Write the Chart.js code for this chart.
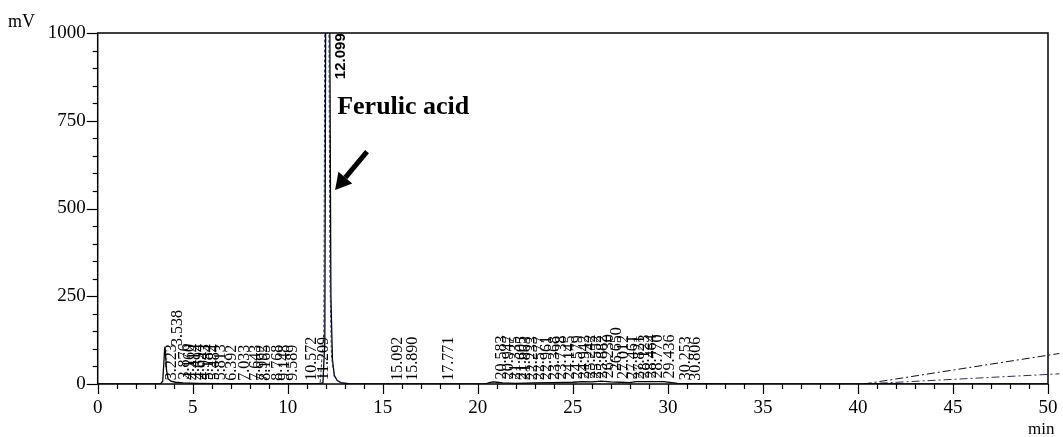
<!DOCTYPE html>
<html>
<head>
<meta charset="utf-8">
<script src="https://cdn.jsdelivr.net/npm/chart.js@4.4.1/dist/chart.umd.min.js"></script>
<style>
  html, body { margin: 0; padding: 0; background: #ffffff; }
  #wrap { position: relative; width: 1063px; height: 437px; }
</style>
</head>
<body>
<div id="wrap"><canvas id="c" width="1063" height="437"></canvas></div>
<script>
// ---- data ----
const traceTime = [0, 3.3, 3.42, 3.48, 3.52, 3.56, 3.62, 3.7, 3.85, 4.1, 4.5, 5.2, 6.5, 9, 11.6, 11.85, 11.95, 12.0, 12.05, 12.15, 12.22, 12.27, 12.35, 12.45, 12.6, 12.8, 13.2, 15, 20.4, 20.6, 20.8, 21.0, 21.3, 22, 23, 24, 25, 25.5, 26, 26.5, 27, 27.5, 28, 28.3, 29.8, 30.5, 31.5, 33, 50];
const traceMV   = [0, 0, 8, 60, 100, 95, 40, 15, 8, 5, 3, 2, 1, 1, 1, 3, 120, 1150, 1900, 1900, 900, 250, 70, 25, 10, 4, 1, 0, 0, 4, 6, 5, 3, 2, 3, 4, 5, 7, 6, 8, 6, 5, 4, 7, 7, 2, 1, 0, 0];

const trace2Time = [11.0, 11.7, 11.9, 11.95, 12.0, 12.1, 12.17, 12.22, 12.3, 12.45, 12.7, 13.2, 14.0];
const trace2MV   = [0, 0, 150, 1100, 1900, 1900, 1000, 300, 80, 20, 5, 0, 0];

const gradTime  = [40.3, 50.6];
const gradAmV   = [0, 87];
const gradBmV   = [0, 29];

const peakTimes = [3.223, 3.538, 3.876, 4.160, 4.414, 4.694, 4.943, 5.184, 5.484, 5.813, 6.392, 7.033, 7.643, 7.992, 8.165, 8.768, 9.148, 9.589,
  10.572, 11.209, 12.099, 15.092, 15.890, 17.771,
  20.583, 20.947, 21.335, 21.605, 21.863, 22.233, 22.577, 22.961, 23.368, 23.738, 24.145, 24.579, 24.942, 25.242, 25.552, 25.882, 26.230, 26.650, 27.012, 27.461, 27.821, 28.123, 28.464, 28.770, 29.436, 30.253, 30.806];
const peakHeights = [2, 100, 4, 3, 3, 3, 3, 2, 2, 2, 1, 1, 1, 1, 1, 1, 1, 1,
  1, 2, 860, 1, 1, 1,
  4, 5, 3, 3, 2, 2, 2, 3, 3, 4, 4, 5, 5, 7, 6, 6, 8, 28, 6, 5, 4, 7, 7, 7, 7, 2, 1];

const xTickValues = [0, 5, 10, 15, 20, 25, 30, 35, 40, 45, 50];
const yTickValues = [0, 250, 500, 750, 1000];

function pts(xs, ys) { return xs.map((x, i) => ({ x: x, y: ys[i] })); }

const SERIF = '"Liberation Serif", "Times New Roman", serif';

const overlay = {
  id: 'overlay',
  afterDraw(chart) {
    const ctx = chart.ctx;
    const a = chart.chartArea;
    const xs = chart.scales.x, ys = chart.scales.y;
    ctx.save();
    // frame
    ctx.strokeStyle = '#000';
    ctx.lineWidth = 1.5;
    ctx.strokeRect(a.left, a.top, a.right - a.left, a.bottom - a.top);
    // x ticks
    ctx.lineWidth = 1.2;
    for (let m = 0; m <= 50; m++) {
      const px = Math.round(xs.getPixelForValue(m)) + 0.5;
      const len = (m % 5 === 0) ? 10 : 5;
      ctx.beginPath(); ctx.moveTo(px, a.bottom); ctx.lineTo(px, a.bottom + len); ctx.stroke();
    }
    // y ticks
    for (let v = 0; v <= 1000; v += 50) {
      const py = Math.round(ys.getPixelForValue(v)) + 0.5;
      const len = (v % 250 === 0) ? 11 : 5;
      ctx.beginPath(); ctx.moveTo(a.left, py); ctx.lineTo(a.left - len, py); ctx.stroke();
    }
    // peak labels
    ctx.fillStyle = '#000';
    ctx.textAlign = 'left';
    ctx.textBaseline = 'middle';
    for (let i = 0; i < peakTimes.length; i++) {
      const t = peakTimes[i];
      const px = xs.getPixelForValue(t) + 13;
      const py = ys.getPixelForValue(peakHeights[i]) - 3;
      ctx.save();
      ctx.translate(px, py);
      ctx.rotate(-Math.PI / 2);
      if (t === 12.099) {
        ctx.font = 'bold 15px "Liberation Sans", Arial, sans-serif';
      } else {
        ctx.font = '16px ' + SERIF;
      }
      ctx.fillText(t.toFixed(3), 0, 0);
      ctx.restore();
    }
    // annotation text
    ctx.font = 'bold 26px ' + SERIF;
    ctx.textBaseline = 'alphabetic';
    ctx.fillText('Ferulic acid', xs.getPixelForValue(12.6), ys.getPixelForValue(770));
    // arrow
    const tx = xs.getPixelForValue(12.49), ty = ys.getPixelForValue(553);
    const sx = xs.getPixelForValue(14.17), sy = ys.getPixelForValue(662);
    const ang = Math.atan2(ty - sy, tx - sx);
    const headLen = 16, headW = 9;
    const bx = tx - headLen * Math.cos(ang), by = ty - headLen * Math.sin(ang);
    ctx.lineWidth = 5;
    ctx.lineCap = 'butt';
    ctx.beginPath(); ctx.moveTo(sx, sy); ctx.lineTo(bx, by); ctx.stroke();
    ctx.beginPath();
    ctx.moveTo(tx, ty);
    ctx.lineTo(bx + headW * Math.sin(ang), by - headW * Math.cos(ang));
    ctx.lineTo(bx - headW * Math.sin(ang), by + headW * Math.cos(ang));
    ctx.closePath(); ctx.fill();
    // axis unit labels
    ctx.font = '18px ' + SERIF;
    ctx.textAlign = 'left';
    ctx.fillText('mV', 8, 27);
    ctx.font = '17px ' + SERIF;
    ctx.fillText('min', 1028, 434);
    ctx.restore();
  }
};

new Chart(document.getElementById('c'), {
  type: 'line',
  data: {
    datasets: [
      { data: pts(trace2Time, trace2MV), borderColor: '#1d2b6b', borderWidth: 1, borderDash: [3, 2], pointRadius: 0, tension: 0 },
      { data: pts(traceTime, traceMV), borderColor: '#000000', borderWidth: 1.3, pointRadius: 0, tension: 0 },
      { data: pts(gradTime, gradAmV), borderColor: '#111111', borderWidth: 1, borderDash: [8, 3, 2, 3], pointRadius: 0, clip: { left: 0, top: 0, right: 12, bottom: 0 } },
      { data: pts(gradTime, gradBmV), borderColor: '#2a2f55', borderWidth: 1, borderDash: [8, 3, 2, 3], pointRadius: 0, clip: { left: 0, top: 0, right: 12, bottom: 0 } }
    ]
  },
  options: {
    responsive: false,
    animation: false,
    events: [],
    layout: { padding: { left: 0, right: 15, top: 33, bottom: 0 }, autoPadding: false },
    plugins: { legend: { display: false }, tooltip: { enabled: false } },
    scales: {
      x: {
        type: 'linear', min: 0, max: 50,
        afterBuildTicks: (s) => { s.ticks = xTickValues.map(v => ({ value: v })); },
        ticks: { color: '#000', font: { family: SERIF, size: 19 }, padding: 13, maxRotation: 0, autoSkip: false, callback: (v) => String(v) },
        grid: { display: false, drawTicks: false },
        border: { display: false },
        afterFit: (s) => { s.height = 53; s.paddingLeft = 0; s.paddingRight = 0; }
      },
      y: {
        type: 'linear', min: 0, max: 1000,
        afterBuildTicks: (s) => { s.ticks = yTickValues.map(v => ({ value: v })); },
        ticks: { color: '#000', font: { family: SERIF, size: 19 }, padding: 12, autoSkip: false, callback: (v) => String(v) },
        grid: { display: false, drawTicks: false },
        border: { display: false },
        afterFit: (s) => { s.width = 97.7; s.paddingTop = 0; s.paddingBottom = 0; }
      }
    }
  },
  plugins: [overlay]
});
</script>
</body>
</html>
